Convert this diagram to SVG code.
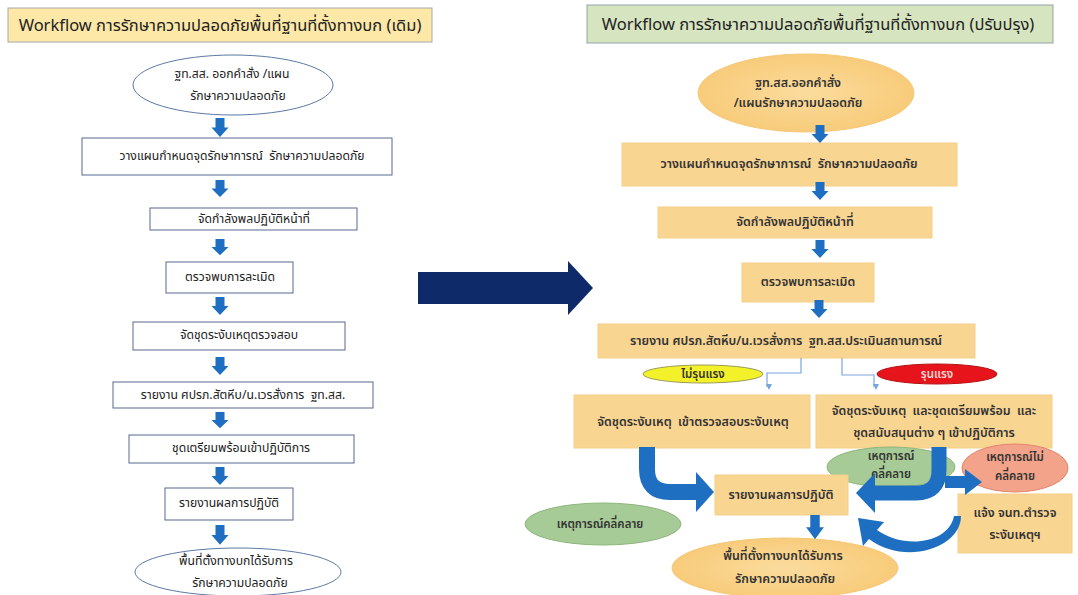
<svg xmlns="http://www.w3.org/2000/svg" xmlns:xlink="http://www.w3.org/1999/xlink" width="1078" height="595" viewBox="0 0 1078 595">
<style>
text{font-family:"Noto Sans Thai","Noto Sans","DejaVu Sans",sans-serif;text-anchor:middle;dominant-baseline:central;fill:#222;white-space:pre}
.t{font-size:16.5px}
.l{font-size:12.2px}
.r{font-size:12.4px;font-weight:600;fill:#333}
.s{font-size:11.5px}
.wb{fill:#fff;stroke:#56698f;stroke-width:1}
.we{fill:#fff;stroke:#5b7aa5;stroke-width:1}
.ob{fill:#f9d592;stroke:#f3cf8a;stroke-width:1}
.oe{fill:url(#og);stroke:#f5c877;stroke-width:1}
.ge{fill:#a7cb96;stroke:#8cb67b;stroke-width:1}
.ar{fill:#1e6fc1}
.bb{fill:none;stroke:#1e6fc1}
.thin{fill:none;stroke:#7aa6dc;stroke-width:1.2}
</style>
<defs>
<radialGradient id="og" cx="50%" cy="50%" r="60%">
<stop offset="0" stop-color="#fbdc9e"/>
<stop offset="1" stop-color="#f7c873"/>
</radialGradient>
<path id="dn" d="M-4.5,0H4.5V9H8.5L0,18L-8.5,9H-4.5Z"/>
<marker id="ah" markerWidth="6" markerHeight="6" refX="3" refY="5" orient="auto" markerUnits="userSpaceOnUse">
<path d="M0,0L6,0L3,6Z" fill="#7aa6dc" transform="rotate(-90 3 3)"/>
</marker>
</defs>
<rect width="1078" height="595" fill="#fff"/>

<g id="title-left">
<rect x="8" y="8" width="424" height="34" fill="#fde8a8" stroke="#a8a8a8"/>
<text class="t" x="220" y="25">Workflow การรักษาความปลอดภัยพื้นที่ฐานที่ตั้งทางบก (เดิม)</text>
</g>
<g id="title-right">
<rect x="587" y="5" width="466" height="38" fill="#d6e4c0" stroke="#93a6a6"/>
<text class="t" x="818" y="24">Workflow การรักษาความปลอดภัยพื้นที่ฐานที่ตั้งทางบก (ปรับปรุง)</text>
</g>

<g id="big-arrow">
<path d="M418,272H568V261L593,288L568,315V304H418Z" fill="#0e2a68"/>
</g>

<!-- left column -->
<g id="L1"><ellipse class="we" cx="233" cy="85" rx="100" ry="30"/>
<text class="l" x="232" y="74">ฐท.สส. ออกคำสั่ง /แผน</text>
<text class="l" x="238" y="96">รักษาความปลอดภัย</text></g>
<g id="L2"><rect class="wb" x="82" y="138" width="310" height="37"/>
<text class="l" x="242" y="156">วางแผนกำหนดจุดรักษาการณ์  รักษาความปลอดภัย</text></g>
<g id="L3"><rect class="wb" x="150" y="208" width="207" height="22"/>
<text class="l" x="254" y="219">จัดกำลังพลปฏิบัติหน้าที่</text></g>
<g id="L4"><rect class="wb" x="166" y="262" width="127" height="31"/>
<text class="l" x="230" y="277">ตรวจพบการละเมิด</text></g>
<g id="L5"><rect class="wb" x="133" y="322" width="212" height="28"/>
<text class="l" x="239" y="335">จัดชุดระงับเหตุตรวจสอบ</text></g>
<g id="L6"><rect class="wb" x="113" y="382" width="260" height="26"/>
<text class="l" x="243" y="395">รายงาน ศปรภ.สัตหีบ/น.เวรสั่งการ  ฐท.สส.</text></g>
<g id="L7"><rect class="wb" x="129" y="435" width="225" height="28"/>
<text class="l" x="241" y="448">ชุดเตรียมพร้อมเข้าปฏิบัติการ</text></g>
<g id="L8"><rect class="wb" x="165" y="488" width="128" height="32"/>
<text class="l" x="229" y="503">รายงานผลการปฏิบัติ</text></g>
<g id="L9"><ellipse class="we" cx="238" cy="572" rx="103" ry="24"/>
<text class="l" x="236" y="561">พื้นที่ตั้งทางบกได้รับการ</text>
<text class="l" x="240" y="583">รักษาความปลอดภัย</text></g>

<!-- right column -->
<g id="R1"><ellipse class="oe" cx="806" cy="93" rx="108" ry="39"/>
<text class="r" x="798" y="83">ฐท.สส.ออกคำสั่ง</text>
<text class="r" x="798" y="103">/แผนรักษาความปลอดภัย</text></g>
<g id="R2"><rect class="ob" x="622" y="143" width="335" height="43"/>
<text class="r" x="789" y="164">วางแผนกำหนดจุดรักษาการณ์  รักษาความปลอดภัย</text></g>
<g id="R3"><rect class="ob" x="658" y="207" width="274" height="31"/>
<text class="r" x="795" y="222">จัดกำลังพลปฏิบัติหน้าที่</text></g>
<g id="R4"><rect class="ob" x="742" y="263" width="132" height="39"/>
<text class="r" x="808" y="282">ตรวจพบการละเมิด</text></g>
<g id="R5"><rect class="ob" x="598" y="324" width="377" height="34"/>
<text class="r" x="786" y="341">รายงาน ศปรภ.สัตหีบ/น.เวรสั่งการ  ฐท.สส.ประเมินสถานการณ์</text></g>
<g id="R6"><ellipse cx="703" cy="374" rx="60" ry="9" fill="#f3f12a" stroke="#9c9c55" stroke-width="1"/>
<text class="r s" x="703" y="374">ไม่รุนแรง</text></g>
<g id="R7"><ellipse cx="937" cy="374" rx="60" ry="10" fill="#e8141c" stroke="#b01414" stroke-width="1"/>
<text class="r s" x="937" y="374" style="fill:#f7d6d6">รุนแรง</text></g>
<g id="R8"><rect class="ob" x="574" y="395" width="236" height="53"/>
<text class="r" x="693" y="422">จัดชุดระงับเหตุ  เข้าตรวจสอบระงับเหตุ</text></g>
<g id="R9"><rect class="ob" x="816" y="395" width="236" height="53"/>
<text class="r" x="934" y="411">จัดชุดระงับเหตุ  และชุดเตรียมพร้อม  และ</text>
<text class="r" x="934" y="433">ชุดสนับสนุนต่าง ๆ เข้าปฏิบัติการ</text></g>
<g id="R10"><ellipse class="ge" cx="891" cy="467" rx="64" ry="20"/>
<text class="r s" x="891" y="456">เหตุการณ์</text>
<text class="r s" x="891" y="474">คลี่คลาย</text></g>
<g id="R11"><ellipse cx="1015" cy="468" rx="53" ry="24" fill="#f2a38a" stroke="#e3846c" stroke-width="1"/>
<text class="r s" x="1015" y="457">เหตุการณ์ไม่</text>
<text class="r s" x="1015" y="476">คลี่คลาย</text></g>
<g id="R12"><rect class="ob" x="958" y="494" width="114" height="59"/>
<text class="r" x="1015" y="513">แจ้ง จนท.ตำรวจ</text>
<text class="r" x="1015" y="535">ระงับเหตุฯ</text></g>
<g id="R13"><rect class="ob" x="715" y="475" width="133" height="40"/>
<text class="r" x="781" y="495">รายงานผลการปฏิบัติ</text></g>
<g id="R14"><ellipse class="ge" cx="603" cy="524" rx="78" ry="21"/>
<text class="r s" x="600" y="524">เหตุการณ์คลี่คลาย</text></g>
<g id="R15"><ellipse class="oe" cx="785" cy="568" rx="113" ry="30"/>
<text class="r" x="783" y="556">พื้นที่ตั้งทางบกได้รับการ</text>
<text class="r" x="785" y="579">รักษาความปลอดภัย</text></g>

<g id="connectors">
<use href="#dn" class="ar" transform="translate(220,118) scale(1,1.05)"/>
<use href="#dn" class="ar" transform="translate(220,180) scale(1,0.95)"/>
<use href="#dn" class="ar" transform="translate(220,239) scale(1,0.9)"/>
<use href="#dn" class="ar" transform="translate(220,297)"/>
<use href="#dn" class="ar" transform="translate(220,357)"/>
<use href="#dn" class="ar" transform="translate(220,412) scale(1,0.9)"/>
<use href="#dn" class="ar" transform="translate(220,467)"/>
<use href="#dn" class="ar" transform="translate(220,525) scale(1,1.1)"/>
<use href="#dn" class="ar" transform="translate(820,125)"/>
<use href="#dn" class="ar" transform="translate(820,182)"/>
<use href="#dn" class="ar" transform="translate(820,240)"/>
<use href="#dn" class="ar" transform="translate(819,300)"/>
<use href="#dn" class="ar" transform="translate(815,515) scale(1.05,1.35)"/>
<path class="thin" d="M801,358V373H767V387" marker-end="url(#ah)"/>
<path class="thin" d="M842,358V375H874V387" marker-end="url(#ah)"/>
<path class="bb" stroke-width="16" d="M647,447V469Q647,492 670,492H698"/>
<path class="ar" d="M696,472L714,492L696,512Z"/>
<path class="bb" stroke-width="15" d="M939,447V470Q939,493 916,493H873"/>
<path class="ar" d="M875,473L856,493L875,513Z"/>
<path class="bb" stroke-width="12" d="M945,482H967"/>
<path class="ar" d="M965,469L982,482L965,495Z"/>
<path class="ar" d="M961,516C961,548 905,566 869,539L863,546L858,518L884,522L877,530C905,550 949,543 954,516Z"/>
</g>
</svg>
